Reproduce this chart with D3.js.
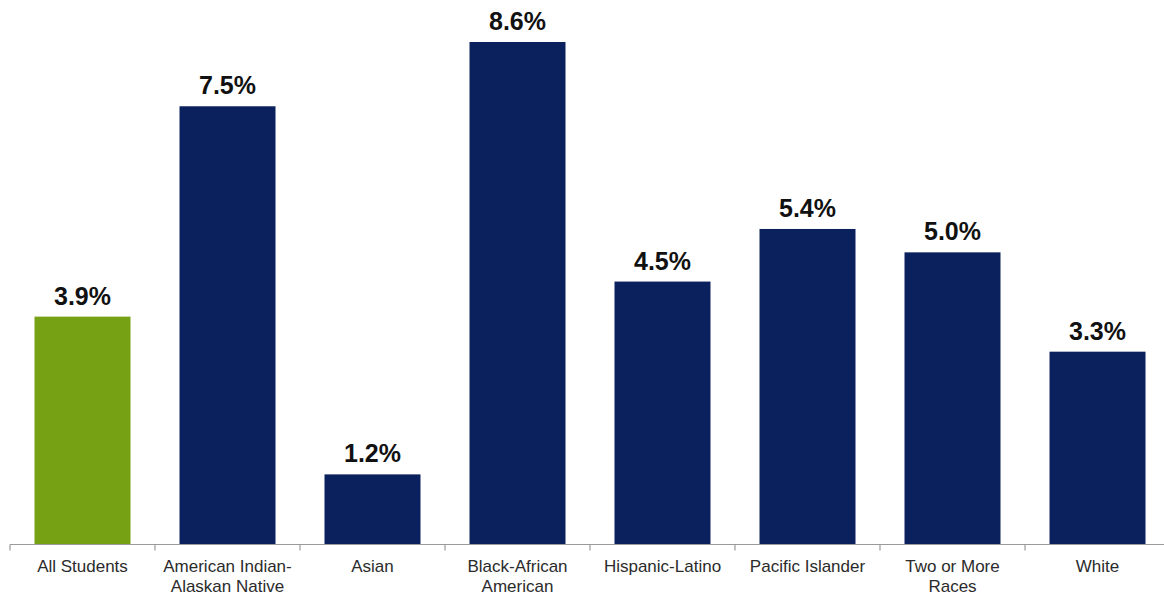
<!DOCTYPE html>
<html>
<head>
<meta charset="utf-8">
<script src="https://cdn.jsdelivr.net/npm/d3@7"></script>
<style>
  html, body { margin: 0; padding: 0; background: #ffffff; }
  svg { display: block; }
</style>
</head>
<body>
<svg id="chart" width="1164" height="596"></svg>
<script>
// Category labels (line breaks mark wrapped labels)
const categories = [
  "All Students",
  "American Indian-\nAlaskan Native",
  "Asian",
  "Black-African\nAmerican",
  "Hispanic-Latino",
  "Pacific Islander",
  "Two or More\nRaces",
  "White"
];
// Rate per group, in percent
const values = [3.9, 7.5, 1.2, 8.6, 4.5, 5.4, 5.0, 3.3];
// Which bar is the overall total
const highlight = ["All Students"];

const width = 1164, height = 596;
const baseY = 544.5;
const svg = d3.select("#chart");

const x = d3.scaleBand()
  .domain(categories)
  .range([10, 1170])
  .paddingInner(0.338)
  .paddingOuter(0.169);

const y = d3.scaleLinear()
  .domain([0, 8.6])
  .range([baseY, 42]);

// Bars
svg.append("g").selectAll("rect")
  .data(categories)
  .join("rect")
  .attr("x", d => x(d))
  .attr("y", (d, i) => y(values[i]))
  .attr("width", x.bandwidth())
  .attr("height", (d, i) => baseY - y(values[i]))
  .attr("fill", d => highlight.includes(d) ? "#76a115" : "#0a215e");

// Value labels
svg.append("g").selectAll("text")
  .data(categories)
  .join("text")
  .attr("x", d => x(d) + x.bandwidth() / 2)
  .attr("y", (d, i) => y(values[i]) - 12)
  .attr("text-anchor", "middle")
  .attr("font-family", "Liberation Sans, Arial, sans-serif")
  .attr("font-weight", "bold")
  .attr("font-size", 25)
  .attr("fill", "#111111")
  .text((d, i) => values[i].toFixed(1) + "%");

// Category axis
const axis = svg.append("g");
axis.append("line")
  .attr("x1", x.range()[0]).attr("x2", width)
  .attr("y1", baseY).attr("y2", baseY)
  .attr("stroke", "#9a9a9a").attr("stroke-width", 1.2);

// Tick marks between categories
const bounds = d3.range(categories.length + 1).map(i => x.range()[0] + i * x.step());
axis.selectAll("line.tick")
  .data(bounds)
  .join("line")
  .attr("class", "tick")
  .attr("x1", d => d).attr("x2", d => d)
  .attr("y1", baseY).attr("y2", baseY + 6)
  .attr("stroke", "#9a9a9a").attr("stroke-width", 1.2);

const labels = axis.selectAll("text")
  .data(categories)
  .join("text")
  .attr("x", d => x(d) + x.bandwidth() / 2)
  .attr("y", 572)
  .attr("text-anchor", "middle")
  .attr("font-family", "Liberation Sans, Arial, sans-serif")
  .attr("font-size", 17)
  .attr("fill", "#2b2b2b");

labels.each(function(d) {
  const t = d3.select(this);
  d.split("\n").forEach((line, i) => {
    t.append("tspan")
      .attr("x", x(d) + x.bandwidth() / 2)
      .attr("dy", i === 0 ? 0 : 19.5)
      .text(line);
  });
});
</script>
</body>
</html>
